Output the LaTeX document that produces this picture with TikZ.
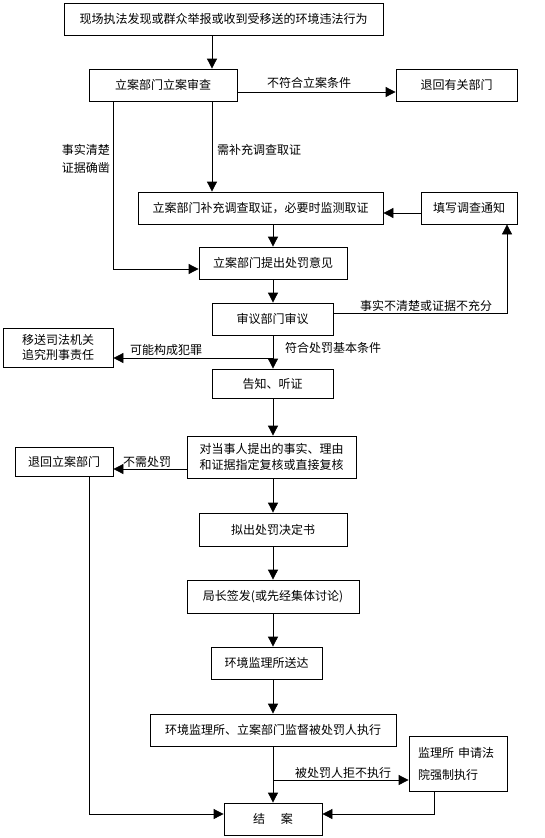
\documentclass[tikz,border=0pt]{standalone}
\usepackage{fontspec}
\setmainfont{Noto Sans CJK SC}
\usetikzlibrary{arrows.meta,positioning}
\tikzset{
  flow-box/.style={draw=black, line width=0.8pt, align=center, inner sep=2pt,
    font=\fontsize{12}{16}\selectfont},
  flow-arrow/.style={-{Triangle[length=10pt,width=10pt]}, line width=0.8pt},
  flow-label/.style={font=\fontsize{12}{18}\selectfont, inner sep=0pt}
}

\begin{document}
\begin{tikzpicture}[x=1pt, y=-1pt]
  \useasboundingbox (0,0) rectangle (544,838);

  % Column guides
  \coordinate (main) at (273,0);
  \coordinate (top-col) at (212,0);
  \coordinate (left-col) at (113,0);
  \coordinate (right-col) at (507,0);
  \coordinate (back-col) at (89,0);
  \coordinate (court-col) at (434,0);

  % Boxes
  \node[flow-box, minimum width=319pt, minimum height=32pt] (src) at (223.5,19)
    {现场执法发现或群众举报或收到受移送的环境违法行为};
  \node[flow-box, minimum width=148pt, minimum height=32pt] (reg) at (163,85) {立案部门立案审查};
  \node[flow-box, minimum width=121pt, minimum height=32pt] (ret1) at (456.5,85) {退回有关部门};
  \node[flow-box, minimum width=245pt, minimum height=32pt] (supp) at (260.5,208)
    {立案部门补充调查取证，必要时监测取证};
  \node[flow-box, minimum width=96pt, minimum height=32pt] (notice) at (469,208) {填写调查通知};
  \node[flow-box, minimum width=148pt, minimum height=32pt] (opin) at (273,263) {立案部门提出处罚意见};
  \node[flow-box, minimum width=121pt, minimum height=32pt] (review) at (272.5,319) {审议部门审议};
  \node[flow-box, minimum width=110pt, minimum height=39pt, font=\fontsize{12}{15}\selectfont] (judic) at (58,347.5)
    {移送司法机关\\追究刑事责任};
  \node[flow-box, minimum width=121pt, minimum height=29pt] (hear) at (272.5,383.5) {告知、听证};
  \node[flow-box, minimum width=169pt, minimum height=42pt, font=\fontsize{12}{16.5}\selectfont] (recheck) at (271.5,457)
    {对当事人提出的事实、理由\\和证据指定复核或直接复核};
  \node[flow-box, minimum width=98pt, minimum height=29pt] (ret2) at (64,461.5) {退回立案部门};
  \node[flow-box, minimum width=148pt, minimum height=33pt] (draft) at (273,529.5) {拟出处罚决定书};
  \node[flow-box, minimum width=172pt, minimum height=33pt] (sign) at (273,596.5) {局长签发(或先经集体讨论)};
  \node[flow-box, minimum width=111pt, minimum height=32pt] (deliver) at (266.5,663) {环境监理所送达};
  \node[flow-box, minimum width=246pt, minimum height=32pt] (superv) at (273,730)
    {环境监理所、立案部门监督被处罚人执行};
  \node[flow-box, minimum width=98pt, minimum height=55pt, inner xsep=9pt, text width=80pt,
    align=left, font=\fontsize{12}{22}\selectfont] (court) at (458,763.5)
    {监理所 申请法\\院强制执行};
  \node[flow-box, minimum width=98pt, minimum height=32pt] (close) at (273,819) {结\hspace{16pt}案};

  % Main flow
  \draw[flow-arrow] (src.south -| top-col) -- (reg.north -| top-col);
  \draw[flow-arrow] (reg.south -| top-col) -- (supp.north -| top-col);
  \draw[flow-arrow] (supp.south -| main) -- (opin.north -| main);
  \foreach \a/\b in {opin/review, review/hear, hear/recheck, recheck/draft,
                     draft/sign, sign/deliver, deliver/superv, superv/close} {
    \draw[flow-arrow] (\a.south -| main) -- (\b.north -| main);
  }

  % Side branches
  \draw[flow-arrow] ([yshift=-7pt]reg.east) -- ([yshift=-7pt]ret1.west);
  \draw[flow-arrow] (reg.south -| left-col) |- ([yshift=-6pt]opin.west);
  \draw[flow-arrow] ([yshift=-5pt]notice.west) -- ([yshift=-5pt]supp.east);
  \draw[flow-arrow] ([yshift=6pt]review.east) -| (notice.south -| right-col);
  \coordinate (crime) at (273,358);
  \draw[flow-arrow] (crime) -- (crime -| judic.east);
  \draw[flow-arrow] ([yshift=-12pt]recheck.west) -- ([yshift=-12pt]recheck.west -| ret2.east);
  \draw[flow-arrow] (ret2.south -| back-col) |- ([yshift=5pt]close.west);
  \coordinate (refuse) at (273,780);
  \draw[flow-arrow] (refuse) -- (refuse -| court.west);
  \draw[flow-arrow] (court.south -| court-col) |- ([yshift=5pt]close.east);

  % Labels
  \node[flow-label, anchor=west] (lbl-reject) at (267,82.5) {不符合立案条件};
  \node[flow-label, anchor=east, align=right] (lbl-clear) at (110,159) {事实清楚\\证据确凿};
  \node[flow-label, anchor=west] (lbl-more) at (217,150) {需补充调查取证};
  \node[flow-label, anchor=west] (lbl-unclear) at (360,306) {事实不清楚或证据不充分};
  \node[flow-label, anchor=west] (lbl-crime) at (130,350) {可能构成犯罪};
  \node[flow-label, anchor=west] (lbl-meet) at (285,348) {符合处罚基本条件};
  \node[flow-label, anchor=west] (lbl-none) at (123,462) {不需处罚};
  \node[flow-label, anchor=west] (lbl-refuse) at (295,773) {被处罚人拒不执行};
\end{tikzpicture}
\end{document}
